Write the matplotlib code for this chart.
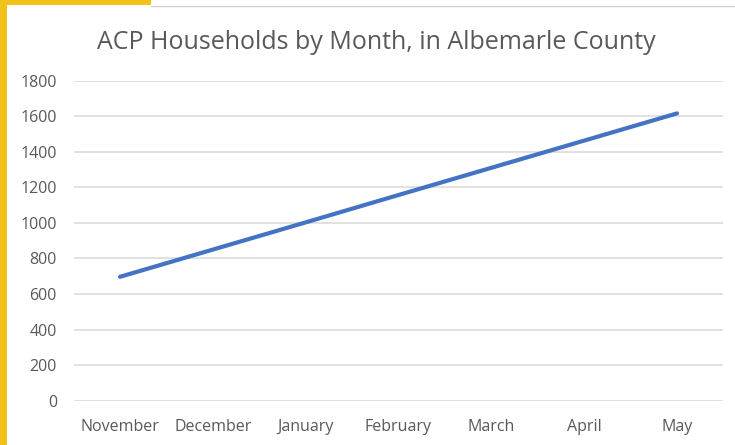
import matplotlib
matplotlib.use("Agg")
import matplotlib.pyplot as plt
from matplotlib.patches import Rectangle
from matplotlib.lines import Line2D

months = ["November", "December", "January", "February", "March", "April", "May"]
households = [697, 850, 1003, 1157, 1310, 1463, 1616]
y_ticks = [0, 200, 400, 600, 800, 1000, 1200, 1400, 1600, 1800]
title = "ACP Households by Month, in Albemarle County"

plt.rcParams['font.family'] = ['Open Sans', 'DejaVu Sans']

W, H = 735, 445
fig = plt.figure(figsize=(W / 100, H / 100), dpi=100)
fig.patch.set_facecolor("white")

ax = fig.add_axes([73.6 / W, 44.3 / H, (723.4 - 73.6) / W, (400.7 - 80.7) / H])
x = list(range(len(months)))
ax.plot(x, households, color="#4472C4", linewidth=3.0, solid_capstyle="round", zorder=3)

ax.set_xlim(-0.5, len(months) - 0.5)
ax.set_ylim(0, 1800)
ax.set_yticks(y_ticks)
ax.set_yticklabels([str(v) for v in y_ticks])
ax.set_xticks(x)
ax.set_xticklabels(months)
ax.yaxis.grid(True, color="#D9D9D9", linewidth=1.1)
ax.set_axisbelow(True)
for s in ax.spines.values():
    s.set_visible(False)
ax.tick_params(axis="both", length=0, colors="#595959", labelsize=11.5)
ax.tick_params(axis="y", pad=12)
ax.tick_params(axis="x", pad=13)

fig.text(376.5 / W, 1 - 49.3 / H, title, ha="center", va="baseline", fontsize=18, color="#595959")

# decorative border
fig.add_artist(Rectangle((0, 0), 6.5 / W, 1, transform=fig.transFigure, color="#F2C21B", lw=0))
fig.add_artist(Rectangle((0, 1 - 4.5 / H), 151 / W, 4.5 / H, transform=fig.transFigure, color="#F2C21B", lw=0))
fig.add_artist(Line2D([151 / W, 1], [1 - 5.5 / H, 1 - 5.5 / H], transform=fig.transFigure, color="#D4D4D4", lw=1))

fig.savefig("out.png", dpi=100)
